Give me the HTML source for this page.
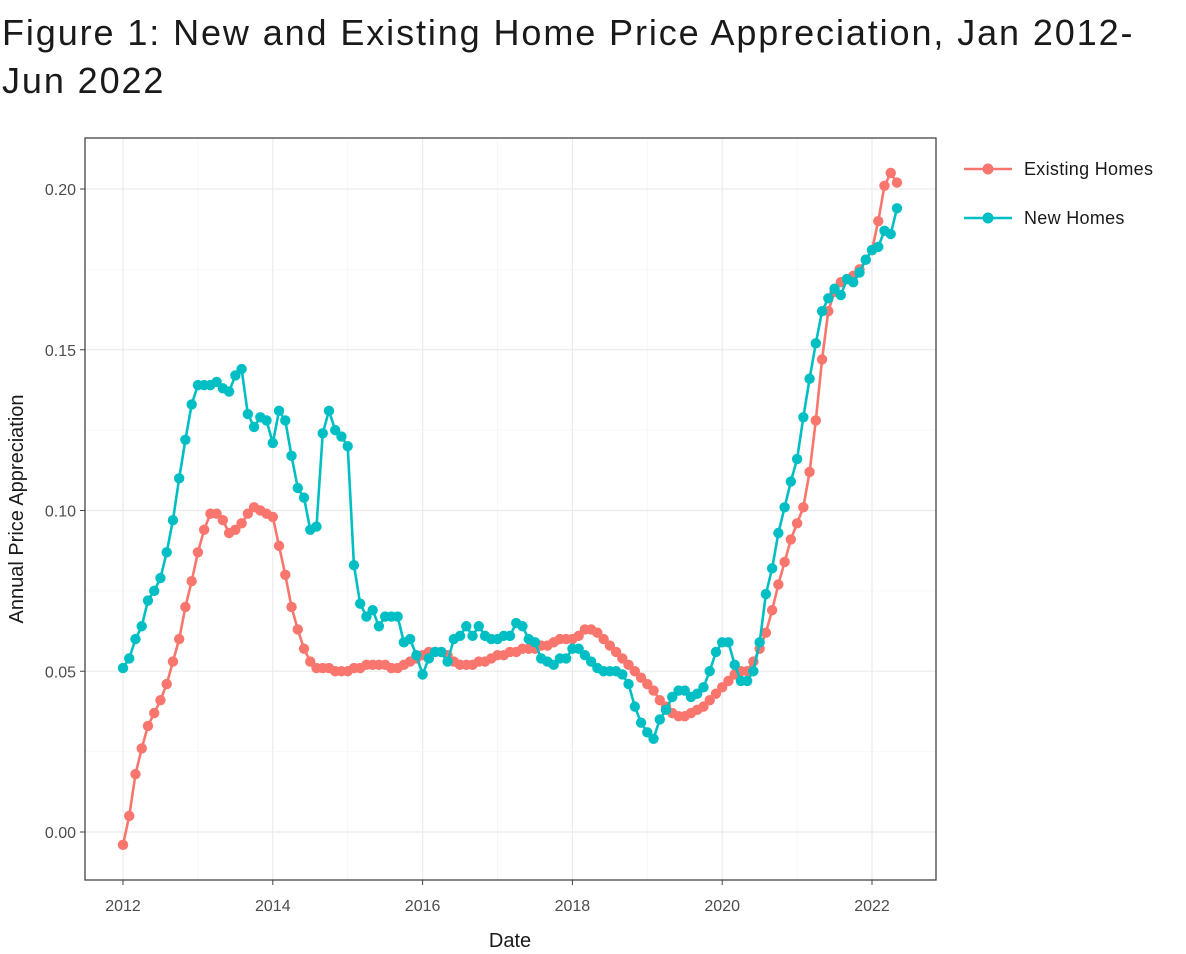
<!DOCTYPE html>
<html><head><meta charset="utf-8"><style>
body{margin:0;background:#fff;width:1186px;height:954px;overflow:hidden;font-family:"Liberation Sans",sans-serif}
#title{position:absolute;left:2px;top:9px;font-size:36px;line-height:48px;color:#1a1a1a;width:1184px;letter-spacing:1.9px;white-space:nowrap}
svg{position:absolute;left:0;top:0}
</style></head><body>
<div id="title">Figure 1: New and Existing Home Price Appreciation, Jan 2012-<br>Jun 2022</div>
<svg id="chart" width="1186" height="954"></svg>
<script>
const existingHomes=[-0.004,0.005,0.018,0.026,0.033,0.037,0.041,0.046,0.053,0.060,0.070,0.078,
0.087,0.094,0.099,0.099,0.097,0.093,0.094,0.096,0.099,0.101,0.100,0.099,
0.098,0.089,0.080,0.070,0.063,0.057,0.053,0.051,0.051,0.051,0.050,0.050,
0.050,0.051,0.051,0.052,0.052,0.052,0.052,0.051,0.051,0.052,0.053,0.054,
0.055,0.056,0.056,0.056,0.055,0.053,0.052,0.052,0.052,0.053,0.053,0.054,
0.055,0.055,0.056,0.056,0.057,0.057,0.057,0.058,0.058,0.059,0.060,0.060,
0.060,0.061,0.063,0.063,0.062,0.060,0.058,0.056,0.054,0.052,0.050,0.048,
0.046,0.044,0.041,0.039,0.037,0.036,0.036,0.037,0.038,0.039,0.041,0.043,
0.045,0.047,0.049,0.050,0.050,0.053,0.057,0.062,0.069,0.077,0.084,0.091,
0.096,0.101,0.112,0.128,0.147,0.162,0.168,0.171,0.172,0.173,0.175,0.178,
0.181,0.190,0.201,0.205,0.202];
const newHomes=[0.051,0.054,0.060,0.064,0.072,0.075,0.079,0.087,0.097,0.110,0.122,0.133,
0.139,0.139,0.139,0.140,0.138,0.137,0.142,0.144,0.130,0.126,0.129,0.128,
0.121,0.131,0.128,0.117,0.107,0.104,0.094,0.095,0.124,0.131,0.125,0.123,
0.120,0.083,0.071,0.067,0.069,0.064,0.067,0.067,0.067,0.059,0.060,0.055,
0.049,0.054,0.056,0.056,0.053,0.060,0.061,0.064,0.061,0.064,0.061,0.060,
0.060,0.061,0.061,0.065,0.064,0.060,0.059,0.054,0.053,0.052,0.054,0.054,
0.057,0.057,0.055,0.053,0.051,0.050,0.050,0.050,0.049,0.046,0.039,0.034,
0.031,0.029,0.035,0.038,0.042,0.044,0.044,0.042,0.043,0.045,0.050,0.056,
0.059,0.059,0.052,0.047,0.047,0.050,0.059,0.074,0.082,0.093,0.101,0.109,
0.116,0.129,0.141,0.152,0.162,0.166,0.169,0.167,0.172,0.171,0.174,0.178,
0.181,0.182,0.187,0.186,0.194];
const xTicks=[2012,2014,2016,2018,2020,2022];
const yTicks=[0.00,0.05,0.10,0.15,0.20];
const seriesNames=["Existing Homes","New Homes"];

const NS="http://www.w3.org/2000/svg";
const svg=document.getElementById('chart');
const X=yr=>123+(yr-2012)*74.9;
const Xi=i=>X(2012+i/12);
const Y=v=>832-v*3215;
function mk(tag,attrs,parent){const e=document.createElementNS(NS,tag);for(const k in attrs)e.setAttribute(k,attrs[k]);(parent||svg).appendChild(e);return e;}
const L=85,T=138,R=936,B=880;
for(let i=0;i<xTicks.length;i++){const x=X(xTicks[i]);
 const g=mk('line',{x1:x,x2:x,y1:T,y2:B,stroke:'#ebebeb','stroke-width':1.2});
 
 
 if(i<xTicks.length-1){mk('line',{x1:(x+X(xTicks[i+1]))/2,x2:(x+X(xTicks[i+1]))/2,y1:T,y2:B,stroke:'#f5f5f5','stroke-width':0.8});}
}
for(let i=0;i<yTicks.length;i++){const y=Y(yTicks[i]);
 const g=mk('line',{x1:L,x2:R,y1:y,y2:y,stroke:'#ebebeb','stroke-width':1.2});
 
 
 if(i<yTicks.length-1){const ym=(y+Y(yTicks[i+1]))/2;mk('line',{x1:L,x2:R,y1:ym,y2:ym,stroke:'#f5f5f5','stroke-width':0.8});}
}
const frame=mk('rect',{x:L,y:T,width:R-L,height:B-T,fill:'none',stroke:'#444','stroke-width':1.3});


for(const t of xTicks){const x=X(t);
 mk('line',{x1:x,x2:x,y1:B,y2:B+5,stroke:'#444'});
 const tx=mk('text',{x:x,y:B+31,'text-anchor':'middle','font-size':16,fill:'#4d4d4d'});tx.textContent=t;
 
 
}
for(const t of yTicks){const y=Y(t);
 mk('line',{x1:L-5,x2:L,y1:y,y2:y,stroke:'#444'});
 const tx=mk('text',{x:L-9,y:y+6,'text-anchor':'end','font-size':16,fill:'#4d4d4d'});tx.textContent=t.toFixed(2);
 
 
}
const xt=mk('text',{x:510,y:947,'text-anchor':'middle','font-size':20,fill:'#1a1a1a'});xt.textContent='Date';


const yt=mk('text',{x:0,y:0,'text-anchor':'middle','font-size':20,fill:'#1a1a1a',transform:'translate(23,509) rotate(-90)'});yt.textContent='Annual Price Appreciation';


function series(vals,color,name){
 const g=mk('g',{});
 
 
 mk('polyline',{points:vals.map((v,i)=>Xi(i)+','+Y(v)).join(' '),fill:'none',stroke:color,'stroke-width':2.6},g);
 vals.forEach((v,i)=>{const c=mk('circle',{cx:Xi(i),cy:Y(v),r:5.2,fill:color},g);
  
  });
}
series(existingHomes,'#f8766d','existing-homes');
series(newHomes,'#00bfc4','new-homes');
const cols=['#f8766d','#00bfc4'];
seriesNames.forEach((n,i)=>{const y=169+i*49;
 const g=mk('g',{});
 
 
 mk('line',{x1:964,x2:1012,y1:y,y2:y,stroke:cols[i],'stroke-width':2.6},g);
 mk('circle',{cx:988,cy:y,r:5.5,fill:cols[i]},g);
 const t=mk('text',{x:1024,y:y+6,'font-size':18,fill:'#1a1a1a','letter-spacing':0.3},g);t.textContent=n;
});
</script>
</body></html>
